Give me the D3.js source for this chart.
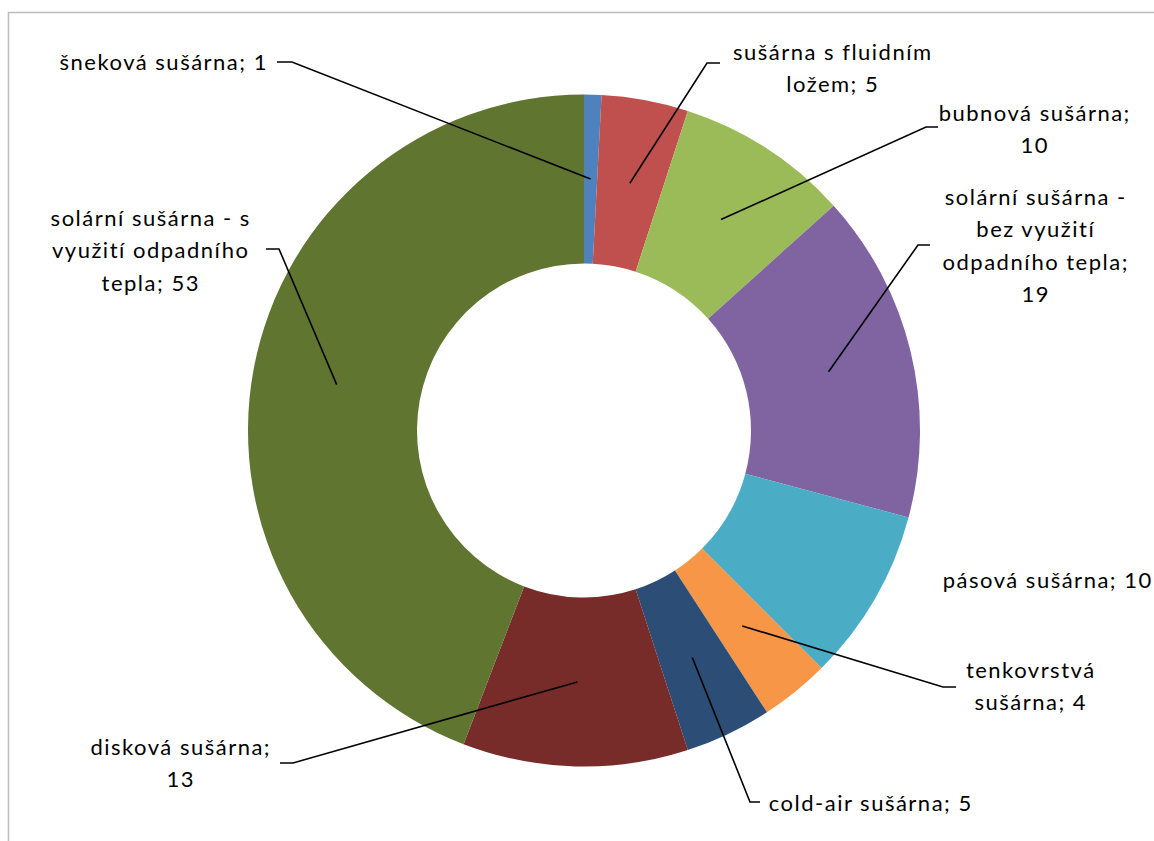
<!DOCTYPE html>
<html>
<head>
<meta charset="utf-8">
<script src="https://cdn.jsdelivr.net/npm/d3@7"></script>
<style>
  html, body { margin: 0; padding: 0; background: #ffffff; }
  svg { display: block; }
  text { font-family: Lato, "Open Sans", "Liberation Sans", sans-serif; fill: #000; }
</style>
</head>
<body>
<svg id="chart" width="1154" height="841"></svg>
<script>
// Dryer types and counts
const categories = [
  "šneková sušárna",
  "sušárna s fluidním ložem",
  "bubnová sušárna",
  "solární sušárna - bez využití odpadního tepla",
  "pásová sušárna",
  "tenkovrstvá sušárna",
  "cold-air sušárna",
  "disková sušárna",
  "solární sušárna - s využití odpadního tepla"
];
const counts = [1, 5, 10, 19, 10, 4, 5, 13, 53];

// Label text broken into lines (category; value)
const labelLines = [
  ["šneková sušárna; 1"],
  ["sušárna s fluidním", "ložem; 5"],
  ["bubnová sušárna;", "10"],
  ["solární sušárna -", "bez využití", "odpadního tepla;", "19"],
  ["pásová sušárna; 10"],
  ["tenkovrstvá", "sušárna; 4"],
  ["cold-air sušárna; 5"],
  ["disková sušárna;", "13"],
  ["solární sušárna - s", "využití odpadního", "tepla; 53"]
];

const colors = ["#4f81bd", "#c0504d", "#9bbb59", "#8064a2", "#4bacc6",
                "#f79646", "#2c4d75", "#772c2a", "#5f7530"];

// Label placement: text centre x, first-line centre y, leader elbow and end
const layout = [
  { x: 163,  y: 62,  elbow: [292, 62],  end: [277, 62] },
  { x: 832,  y: 52,  elbow: [707, 63],  end: [720, 63] },
  { x: 1034, y: 113, elbow: [926, 127], end: [938, 127] },
  { x: 1035, y: 197, elbow: [918, 245], end: [930, 245] },
  { x: 1047, y: 580, elbow: null,       end: null },
  { x: 1030, y: 670, elbow: [943, 687], end: [956, 687] },
  { x: 870,  y: 803, elbow: [750, 802], end: [760, 802] },
  { x: 180,  y: 747, elbow: [293, 763], end: [280, 763] },
  { x: 150,  y: 218, elbow: [279, 249], end: [266, 249] }
];

const W = 1154, H = 841;
const cx = 584, cy = 430.5;
const outerR = 336, innerR = 167;
const fontSize = 22, lineGap = 32.5, tracking = 1.5;

const svg = d3.select("#chart");

// Chart area frame
svg.append("rect")
  .attr("x", 8.5).attr("y", 12.5)
  .attr("width", 1300).attr("height", 1000)
  .attr("fill", "none")
  .attr("stroke", "#bfbfbf")
  .attr("stroke-width", 1.6);

const data = categories.map((c, i) => ({ name: c, value: counts[i], i }));

const pie = d3.pie().value(d => d.value).sort(null);
const arcs = pie(data);
const arc = d3.arc().innerRadius(innerR).outerRadius(outerR);

const g = svg.append("g").attr("transform", `translate(${cx},${cy})`);

g.selectAll("path.slice")
  .data(arcs)
  .join("path")
  .attr("class", "slice")
  .attr("d", arc)
  .attr("fill", d => colors[d.data.i]);

// Leader lines from slice centroid to the label
const lines = svg.append("g");
arcs.forEach(a => {
  const L = layout[a.data.i];
  if (!L.elbow) return;
  const c = arc.centroid(a);
  const pts = [[c[0] + cx, c[1] + cy], L.elbow, L.end];
  lines.append("path")
    .attr("d", d3.line()(pts))
    .attr("fill", "none")
    .attr("stroke", "#000")
    .attr("stroke-width", 1.6);
});

// Data labels
const labels = svg.append("g");
labelLines.forEach((ls, i) => {
  const L = layout[i];
  const t = labels.append("text")
    .attr("text-anchor", "middle")
    .attr("font-size", fontSize)
    .attr("letter-spacing", tracking);
  ls.forEach((s, k) => {
    t.append("tspan")
      .attr("x", L.x + tracking / 2)
      .attr("y", L.y + k * lineGap + fontSize * 0.36)
      .text(s);
  });
});
</script>
</body>
</html>
